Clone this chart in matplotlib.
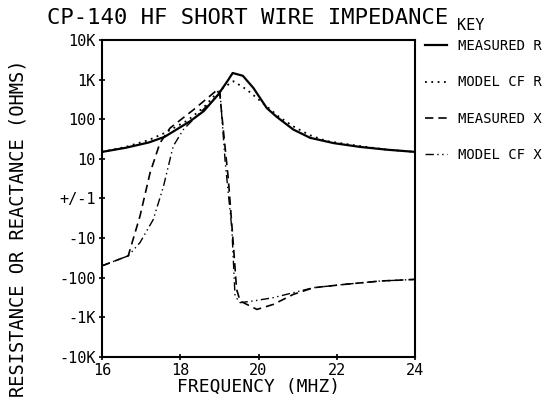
import matplotlib
matplotlib.use("Agg")
import matplotlib.pyplot as plt
import numpy as np

# frequency (MHz) and impedance values (ohms)
freq_meas_r = [16.0, 16.6, 17.2, 17.6, 18.25, 18.6, 18.97, 19.2, 19.34, 19.6, 19.87,
               20.21, 20.47, 20.89, 21.32, 21.92, 22.6, 23.3, 24.0]
meas_r = [15, 19, 26, 36, 89, 160, 420, 900, 1470, 1250, 615,
          192, 114, 55, 34, 25, 20, 17, 15]

freq_model_r = [16.0, 16.6, 17.2, 17.6, 18.2, 18.6, 19.0, 19.36, 19.7, 20.21,
                20.5, 20.89, 21.3, 21.75, 22.6, 23.3, 24.0]
model_r = [15, 20, 30, 45, 95, 200, 540, 910, 560, 212,
           120, 66, 40, 28, 21, 17, 15]

freq_meas_x = [16.0, 16.67, 16.72, 16.97, 17.23, 17.48, 17.74, 18.34, 18.93, 19.0,
               19.1, 19.23, 19.36, 19.44, 19.53, 19.96, 20.38, 20.89, 21.41,
               22.17, 23.11, 24.0]
meas_x = [-50, -28, -19, -2.8, 4.5, 25, 60, 174, 535, 550,
          55, 3, -16, -195, -387, -630, -470, -263, -178,
          -148, -121, -110]

freq_model_x = [16.0, 16.67, 16.97, 17.31, 17.57, 17.82, 18.08, 18.5, 18.97, 19.02,
                19.15, 19.32, 19.4, 19.53, 19.87, 20.38, 20.89, 21.41,
                22.17, 23.11, 24.0]
model_x = [-50, -28, -13, -3.4, 2, 21, 55, 145, 417, 450,
           8, -6, -290, -425, -385, -318, -238, -178,
           -148, -121, -110]

y_ticks = [10000, 1000, 100, 10, 1, -10, -100, -1000, -10000]
y_tick_labels = ["10K", "1K", "100", "10", "+/-1", "-10", "-100", "-1K", "-10K"]
x_ticks = [16, 18, 20, 22, 24]
x_tick_labels = ["16", "18", "20", "22", "24"]


def fwd(y):
    y = np.asarray(y, dtype=float)
    return np.sign(y) * np.log10(np.maximum(np.abs(y), 1.0))


def inv(u):
    u = np.asarray(u, dtype=float)
    return np.sign(u) * 10 ** np.abs(u)


plt.rcParams["font.family"] = "DejaVu Sans Mono"

fig = plt.figure(figsize=(5.6, 4.16), dpi=100)
ax = fig.add_axes([102 / 560, 1 - 357 / 416, (415 - 102) / 560, (357 - 40) / 416])
ax.set_yscale("function", functions=(fwd, inv))

ax.plot(freq_meas_r, meas_r, color="black", lw=1.6, ls="-", label="MEASURED R")
ax.plot(freq_model_r, model_r, color="black", lw=1.3, ls=(0, (1, 2.5)), label="MODEL CF R")
ax.plot(freq_meas_x, meas_x, color="black", lw=1.2, ls=(0, (5, 3)), label="MEASURED X")
ax.plot(freq_model_x, model_x, color="black", lw=1.0, ls=(0, (6, 2.5, 1, 2.5, 1, 2.5)),
        label="MODEL CF X")

ax.set_xlim(16, 24)
ax.set_ylim(-10000, 10000)
ax.set_yticks(y_ticks)
ax.set_yticklabels(y_tick_labels)
ax.set_xticks(x_ticks)
ax.set_xticklabels(x_tick_labels)
ax.minorticks_off()
ax.tick_params(direction="inout", length=5, width=1.2, labelsize=11, pad=2)
for s in ax.spines.values():
    s.set_linewidth(1.5)

ax.set_xlabel("FREQUENCY (MHZ)", fontsize=13, labelpad=0)
fig.text(18 / 560, 1 - 228 / 416, "RESISTANCE OR REACTANCE (OHMS)", fontsize=13.5,
         rotation=90, ha="center", va="center")
fig.text(47 / 560, 1 - 18 / 416, "CP-140 HF SHORT WIRE IMPEDANCE", fontsize=16,
         ha="left", va="center")
fig.text(457 / 560, 1 - 26 / 416, "KEY", fontsize=11, ha="left", va="center")

ax.legend(loc="upper left", bbox_to_anchor=(1.0, 1.033), frameon=False,
          fontsize=10, handlelength=1.6, handletextpad=0.8, labelspacing=1.6,
          borderaxespad=0.3)

fig.savefig("out.png", dpi=100)
